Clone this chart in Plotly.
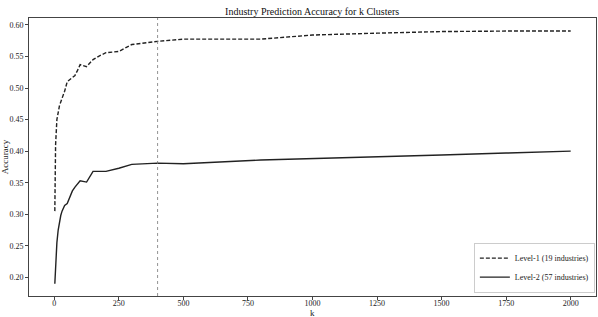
import plotly.graph_objects as go

k_values = [2, 5, 10, 15, 20, 25, 30, 40, 50, 60, 70, 80, 90, 100, 125, 150, 175, 200,
            250, 300, 400, 500, 800, 1000, 1250, 1500, 1750, 2000]
level1_acc = [0.305, 0.41, 0.45, 0.462, 0.472, 0.478, 0.483, 0.495, 0.51, 0.513, 0.516, 0.52,
              0.528, 0.537, 0.534, 0.545, 0.551, 0.556, 0.558, 0.569, 0.574, 0.5775, 0.5775,
              0.584, 0.587, 0.5895, 0.5903, 0.5905]
level2_acc = [0.19, 0.225, 0.255, 0.275, 0.29, 0.298, 0.305, 0.314, 0.317, 0.328, 0.337, 0.343,
              0.349, 0.353, 0.351, 0.368, 0.368, 0.368, 0.373, 0.379, 0.381, 0.380, 0.386,
              0.388, 0.391, 0.394, 0.397, 0.40]
marker_k = 400
x_ticks = [0, 250, 500, 750, 1000, 1250, 1500, 1750, 2000]
y_ticks = [0.20, 0.25, 0.30, 0.35, 0.40, 0.45, 0.50, 0.55, 0.60]

font_family = "Liberation Serif"

fig = go.Figure()
fig.add_trace(go.Scatter(x=k_values, y=level1_acc, mode="lines", name="Level-1 (19 industries)",
                         line=dict(color="#222222", width=1.4, dash="4px,2px")))
fig.add_trace(go.Scatter(x=k_values, y=level2_acc, mode="lines", name="Level-2 (57 industries)",
                         line=dict(color="#222222", width=1.4)))
fig.add_vline(x=marker_k, line=dict(color="#777777", width=0.8, dash="dot"))

axis_common = dict(showgrid=False, zeroline=False, showline=True, mirror=True, automargin=False,
                   linecolor="#444444", linewidth=1, ticks="outside", ticklen=3,
                   tickcolor="#444444", tickfont=dict(size=8, color="#222222", family=font_family))

fig.update_layout(
    width=598, height=317,
    margin=dict(l=29, r=2, t=18, b=21),
    paper_bgcolor="white", plot_bgcolor="white",
    font=dict(family=font_family, color="#222222"),
    title=dict(text="Industry Prediction Accuracy for k Clusters", x=0.522, xanchor="center",
               y=0.963, yanchor="middle", font=dict(size=10, family=font_family, color="#111111")),
    xaxis=dict(range=[-98, 2098], tickvals=x_ticks, ticktext=[str(v) for v in x_ticks],
               ticklabelstandoff=-4, **axis_common),
    yaxis=dict(range=[0.1705, 0.611], tickvals=y_ticks, ticktext=[f"{v:.2f}" for v in y_ticks],
               **axis_common),
    legend=dict(x=0.998, y=0.012, xanchor="right", yanchor="bottom",
                bgcolor="white", bordercolor="#cccccc", borderwidth=1,
                font=dict(size=8, family=font_family), tracegroupgap=0),
    showlegend=True,
    annotations=[
        dict(text="k", xref="paper", yref="paper", x=0.5, y=-0.061, xanchor="center",
             yanchor="middle", showarrow=False, font=dict(size=9, family=font_family)),
        dict(text="Accuracy", xref="paper", yref="paper", x=-0.042, y=0.5, xanchor="center",
             yanchor="middle", textangle=-90, showarrow=False, font=dict(size=9, family=font_family)),
    ],
)

fig.write_html("out.html", config={"displayModeBar": False},
               post_script="document.body.style.margin='0';document.body.style.overflow='hidden';")
